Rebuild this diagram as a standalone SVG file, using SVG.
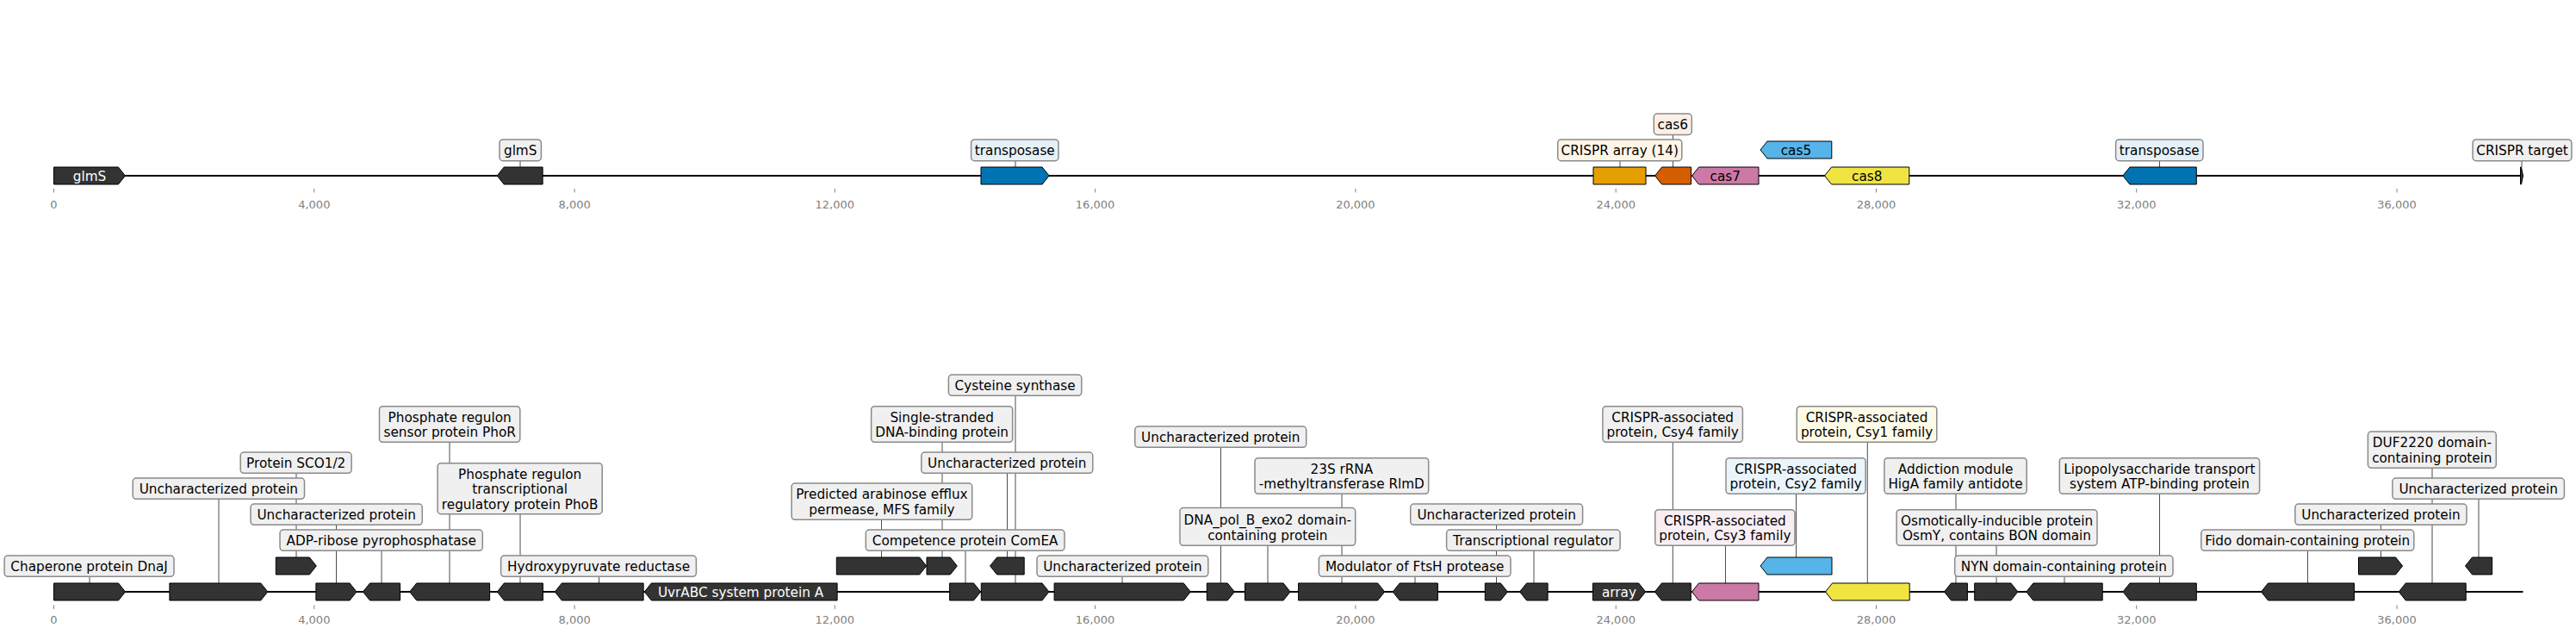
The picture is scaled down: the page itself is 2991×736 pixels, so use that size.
<svg xmlns="http://www.w3.org/2000/svg" width="2991" height="736" viewBox="0 0 2991 736">
<style>
text{font-family:"DejaVu Sans","Liberation Sans",sans-serif}
.track{stroke:#000;stroke-width:2;fill:none}
.gene{stroke:#000;stroke-width:1;fill:#333333}
.tp{fill:#0173b2}.ca{fill:#e69f00}.c6{fill:#d55e00}.c7{fill:#cc79a7}.c5{fill:#56b4e9}.c8{fill:#f0e442}
.box{fill:#f0f0f0;stroke:#8a8a8a;stroke-width:1.5}
.btp{fill:#e6f1f7}.bca{fill:#fdf5e6}.bc6{fill:#fbefe6}.bc1{fill:#fdfbe8}.bc2{fill:#eaf5fb}.bc3{fill:#f9eef4}
.lt{font-size:15.28px;fill:#000;text-anchor:middle}
.wt{font-size:15.28px;fill:#fff;text-anchor:middle}
.bt{font-size:15.28px;fill:#000;text-anchor:middle}
.conn line{stroke:#4d4d4d;stroke-width:1}
.ticks line{stroke:#808080;stroke-width:1}
.ticks text{font-size:13px;fill:#808080;text-anchor:middle}
</style>
<rect width="2991" height="736" fill="#fff"/>
<g id="axes">
<line class="track" x1="62.5" y1="204" x2="2928" y2="204"/>
<line class="track" x1="62.5" y1="687" x2="2929.5" y2="687"/>
<g class="ticks">
<line x1="62.5" y1="219" x2="62.5" y2="223.5"/><line x1="364.8" y1="219" x2="364.8" y2="223.5"/><line x1="667.1" y1="219" x2="667.1" y2="223.5"/><line x1="969.3" y1="219" x2="969.3" y2="223.5"/><line x1="1271.6" y1="219" x2="1271.6" y2="223.5"/><line x1="1573.9" y1="219" x2="1573.9" y2="223.5"/><line x1="1876.2" y1="219" x2="1876.2" y2="223.5"/><line x1="2178.5" y1="219" x2="2178.5" y2="223.5"/><line x1="2480.7" y1="219" x2="2480.7" y2="223.5"/><line x1="2783" y1="219" x2="2783" y2="223.5"/>
<text x="62.5" y="241.5">0</text><text x="364.8" y="241.5">4,000</text><text x="667.1" y="241.5">8,000</text><text x="969.3" y="241.5">12,000</text><text x="1271.6" y="241.5">16,000</text><text x="1573.9" y="241.5">20,000</text><text x="1876.2" y="241.5">24,000</text><text x="2178.5" y="241.5">28,000</text><text x="2480.7" y="241.5">32,000</text><text x="2783" y="241.5">36,000</text>
<line x1="62.5" y1="702.5" x2="62.5" y2="707"/><line x1="364.8" y1="702.5" x2="364.8" y2="707"/><line x1="667.1" y1="702.5" x2="667.1" y2="707"/><line x1="969.3" y1="702.5" x2="969.3" y2="707"/><line x1="1271.6" y1="702.5" x2="1271.6" y2="707"/><line x1="1573.9" y1="702.5" x2="1573.9" y2="707"/><line x1="1876.2" y1="702.5" x2="1876.2" y2="707"/><line x1="2178.5" y1="702.5" x2="2178.5" y2="707"/><line x1="2480.7" y1="702.5" x2="2480.7" y2="707"/><line x1="2783" y1="702.5" x2="2783" y2="707"/>
<text x="62.5" y="724">0</text><text x="364.8" y="724">4,000</text><text x="667.1" y="724">8,000</text><text x="969.3" y="724">12,000</text><text x="1271.6" y="724">16,000</text><text x="1573.9" y="724">20,000</text><text x="1876.2" y="724">24,000</text><text x="2178.5" y="724">28,000</text><text x="2480.7" y="724">32,000</text><text x="2783" y="724">36,000</text>
</g>
</g>
<g id="connectors" class="conn">
<line x1="604" y1="186.7" x2="604" y2="194"/>
<line x1="1179" y1="186.7" x2="1179" y2="194"/>
<line x1="1881" y1="186.7" x2="1881" y2="194"/>
<line x1="1942.5" y1="156.5" x2="1942.5" y2="194"/>
<line x1="2507.5" y1="186.7" x2="2507.5" y2="194"/>
<line x1="2928" y1="186.7" x2="2928" y2="194"/>
<line x1="104" y1="669.3" x2="104" y2="677"/>
<line x1="254" y1="579.3" x2="254" y2="677"/>
<line x1="344" y1="549.3" x2="344" y2="647"/>
<line x1="390.5" y1="609.3" x2="390.5" y2="677"/>
<line x1="443" y1="639.3" x2="443" y2="677"/>
<line x1="522" y1="513.3" x2="522" y2="677"/>
<line x1="604" y1="596.7" x2="604" y2="677"/>
<line x1="695.5" y1="669.3" x2="695.5" y2="677"/>
<line x1="1023.5" y1="603.3" x2="1023.5" y2="647"/>
<line x1="1094" y1="513.3" x2="1094" y2="647"/>
<line x1="1121" y1="639.3" x2="1121" y2="677"/>
<line x1="1179" y1="459.3" x2="1179" y2="677"/>
<line x1="1169.5" y1="549.3" x2="1169.5" y2="647"/>
<line x1="1303" y1="669.3" x2="1303" y2="677"/>
<line x1="1417.5" y1="519.3" x2="1417.5" y2="677"/>
<line x1="1472" y1="633.3" x2="1472" y2="677"/>
<line x1="1558" y1="573.3" x2="1558" y2="677"/>
<line x1="1643" y1="669.3" x2="1643" y2="677"/>
<line x1="1737.5" y1="609.3" x2="1737.5" y2="677"/>
<line x1="1781" y1="639.3" x2="1781" y2="677"/>
<line x1="1942.3" y1="513.3" x2="1942.3" y2="677"/>
<line x1="2003.5" y1="633.3" x2="2003.5" y2="677"/>
<line x1="2085.5" y1="573.3" x2="2085.5" y2="647"/>
<line x1="2168.3" y1="513.3" x2="2168.3" y2="677"/>
<line x1="2271" y1="573.3" x2="2271" y2="677"/>
<line x1="2318" y1="633.3" x2="2318" y2="677"/>
<line x1="2397" y1="669.3" x2="2397" y2="677"/>
<line x1="2507.5" y1="573.3" x2="2507.5" y2="677"/>
<line x1="2679.5" y1="639.3" x2="2679.5" y2="677"/>
<line x1="2764.5" y1="609.3" x2="2764.5" y2="647"/>
<line x1="2824" y1="543.3" x2="2824" y2="677"/>
<line x1="2878" y1="579.3" x2="2878" y2="647"/>
</g>
<g id="t-glmS-1"><polygon class="gene" points="62.5,194 137.4,194 145.4,204 137.4,214 62.5,214"/><text class="wt" x="104" y="209.5">glmS</text></g>
<g id="t-glmS-2"><polygon class="gene" points="577.2,204 585.2,194 630.1,194 630.1,214 585.2,214"/><rect class="box" x="580" y="161.9" width="48.4" height="24.8" rx="4"/><text class="lt" x="604.2" y="180.2">glmS</text></g>
<g id="t-transposase-1"><polygon class="gene tp" points="1139,194 1210.1,194 1218.1,204 1210.1,214 1139,214"/><rect class="box btp" x="1127.6" y="161.9" width="101.4" height="24.8" rx="4"/><text class="lt" x="1178.3" y="180.2">transposase</text></g>
<g id="t-crispr-array"><polygon class="gene ca" points="1850,194 1911,194 1911,214 1850,214"/><rect class="box bca" x="1808.7" y="161.9" width="144.1" height="24.8" rx="4"/><text class="lt" x="1880.75" y="180.2">CRISPR array (14)</text></g>
<g id="t-cas6"><polygon class="gene c6" points="1921.6,204 1929.6,194 1963.5,194 1963.5,214 1929.6,214"/><rect class="box bc6" x="1920.3" y="132" width="44" height="24.5" rx="4"/><text class="lt" x="1942.3" y="150.2">cas6</text></g>
<g id="t-cas7"><polygon class="gene c7" points="1964.5,204 1972.5,194 2042,194 2042,214 1972.5,214"/><text class="bt" x="2003.3" y="209.5">cas7</text></g>
<g id="t-cas5"><polygon class="gene c5" points="2044,174 2052,164 2126.8,164 2126.8,184 2052,184"/><text class="bt" x="2085.4" y="179.5">cas5</text></g>
<g id="t-cas8"><polygon class="gene c8" points="2118.6,204 2126.6,194 2216.8,194 2216.8,214 2126.6,214"/><text class="bt" x="2167.7" y="209.5">cas8</text></g>
<g id="t-transposase-2"><polygon class="gene tp" points="2464.9,204 2472.9,194 2550.3,194 2550.3,214 2472.9,214"/><rect class="box btp" x="2456.6" y="161.9" width="101.4" height="24.8" rx="4"/><text class="lt" x="2507.3" y="180.2">transposase</text></g>
<g id="t-crispr-target"><polygon class="gene" points="2926.5,194 2927.5,194 2929.5,204 2927.5,214 2926.5,214"/><rect class="box" x="2871.1" y="161.9" width="114.8" height="24.8" rx="4"/><text class="lt" x="2928.5" y="180.2">CRISPR target</text></g>

<g id="b1"><polygon class="gene" points="62.5,677 137.5,677 145.5,687 137.5,697 62.5,697"/><rect class="box" x="5.1" y="645" width="196.9" height="24.3" rx="4"/><text class="lt" x="103.55" y="663.2">Chaperone protein DnaJ</text></g>
<g id="b2"><polygon class="gene" points="196.9,677 302.8,677 310.8,687 302.8,697 196.9,697"/><rect class="box" x="154.2" y="555" width="199.3" height="24.3" rx="4"/><text class="lt" x="253.85" y="573.2">Uncharacterized protein</text></g>
<g id="b3"><polygon class="gene" points="320.3,647 359.3,647 367.3,657 359.3,667 320.3,667"/><rect class="box" x="279.2" y="525" width="128.9" height="24.3" rx="4"/><text class="lt" x="343.65" y="543.2">Protein SCO1/2</text></g>
<g id="b4"><polygon class="gene" points="366.9,677 406,677 414,687 406,697 366.9,697"/><rect class="box" x="291" y="585" width="199.3" height="24.3" rx="4"/><text class="lt" x="390.65" y="603.2">Uncharacterized protein</text></g>
<g id="b5"><polygon class="gene" points="421.5,687 429.5,677 464.6,677 464.6,697 429.5,697"/><rect class="box" x="325" y="615" width="235.3" height="24.3" rx="4"/><text class="lt" x="442.65" y="633.2">ADP-ribose pyrophosphatase</text></g>
<g id="b6"><polygon class="gene" points="475.7,687 483.7,677 568.6,677 568.6,697 483.7,697"/><rect class="box" x="440.5" y="471.7" width="163.3" height="41.6" rx="4"/><text class="lt" x="522.15" y="489.7">Phosphate regulon</text><text class="lt" x="522.15" y="507.2">sensor protein PhoR</text></g>
<g id="b7"><polygon class="gene" points="577.3,687 585.3,677 630.4,677 630.4,697 585.3,697"/><rect class="box" x="508.1" y="537.7" width="191.1" height="59" rx="4"/><text class="lt" x="603.65" y="555.7">Phosphate regulon</text><text class="lt" x="603.65" y="573.2">transcriptional</text><text class="lt" x="603.65" y="590.7">regulatory protein PhoB</text></g>
<g id="b8"><polygon class="gene" points="644.3,687 652.3,677 747.1,677 747.1,697 652.3,697"/><rect class="box" x="581.6" y="645" width="226.8" height="24.3" rx="4"/><text class="lt" x="695" y="663.2">Hydroxypyruvate reductase</text></g>
<g id="b9"><polygon class="gene" points="748.3,687 756.3,677 972.1,677 972.1,697 756.3,697"/><text class="wt" x="860" y="692.5">UvrABC system protein A</text></g>
<g id="b10"><polygon class="gene" points="971.3,647 1067.7,647 1075.7,657 1067.7,667 971.3,667"/><rect class="box" x="919.1" y="561" width="209.6" height="42.3" rx="4"/><text class="lt" x="1023.9" y="579.4">Predicted arabinose efflux</text><text class="lt" x="1023.9" y="596.9">permease, MFS family</text></g>
<g id="b11"><polygon class="gene" points="1076,647 1103.3,647 1111.3,657 1103.3,667 1076,667"/><rect class="box" x="1011.6" y="471.7" width="164.1" height="41.6" rx="4"/><text class="lt" x="1093.65" y="489.7">Single-stranded</text><text class="lt" x="1093.65" y="507.2">DNA-binding protein</text></g>
<g id="b12"><polygon class="gene" points="1102.6,677 1130.6,677 1138.6,687 1130.6,697 1102.6,697"/><rect class="box" x="1005.3" y="615" width="230.7" height="24.3" rx="4"/><text class="lt" x="1120.65" y="633.2">Competence protein ComEA</text></g>
<g id="b13"><polygon class="gene" points="1139.3,677 1210,677 1218,687 1210,697 1139.3,697"/><rect class="box" x="1101.4" y="435" width="154.4" height="24.3" rx="4"/><text class="lt" x="1178.6" y="453.2">Cysteine synthase</text></g>
<g id="b14"><polygon class="gene" points="1149.6,657 1157.6,647 1189.2,647 1189.2,667 1157.6,667"/><rect class="box" x="1069.8" y="525" width="199" height="24.3" rx="4"/><text class="lt" x="1169.3" y="543.2">Uncharacterized protein</text></g>
<g id="b15"><polygon class="gene" points="1224.1,677 1374.3,677 1382.3,687 1374.3,697 1224.1,697"/><rect class="box" x="1204" y="645" width="198.8" height="24.3" rx="4"/><text class="lt" x="1303.4" y="663.2">Uncharacterized protein</text></g>
<g id="b16"><polygon class="gene" points="1401.3,677 1425.3,677 1433.3,687 1425.3,697 1401.3,697"/><rect class="box" x="1317.8" y="495" width="198.9" height="24.3" rx="4"/><text class="lt" x="1417.25" y="513.2">Uncharacterized protein</text></g>
<g id="b17"><polygon class="gene" points="1445.5,677 1490.1,677 1498.1,687 1490.1,697 1445.5,697"/><rect class="box" x="1370" y="589.5" width="203.7" height="43.8" rx="4"/><text class="lt" x="1471.85" y="609">DNA_pol_B_exo2 domain-</text><text class="lt" x="1471.85" y="626.5">containing protein</text></g>
<g id="b18"><polygon class="gene" points="1507.6,677 1599.7,677 1607.7,687 1599.7,697 1507.6,697"/><rect class="box" x="1457" y="531.7" width="201.7" height="41.6" rx="4"/><text class="lt" x="1557.85" y="549.7">23S rRNA</text><text class="lt" x="1557.85" y="567.2">-methyltransferase RlmD</text></g>
<g id="b19"><polygon class="gene" points="1617.2,687 1625.2,677 1669.4,677 1669.4,697 1625.2,697"/><rect class="box" x="1531.4" y="645" width="222.6" height="24.3" rx="4"/><text class="lt" x="1642.7" y="663.2">Modulator of FtsH protease</text></g>
<g id="b20"><polygon class="gene" points="1724.3,677 1742.4,677 1750.4,687 1742.4,697 1724.3,697"/><rect class="box" x="1637.7" y="585" width="199.9" height="24.3" rx="4"/><text class="lt" x="1737.65" y="603.2">Uncharacterized protein</text></g>
<g id="b21"><polygon class="gene" points="1764.6,687 1772.6,677 1797.1,677 1797.1,697 1772.6,697"/><rect class="box" x="1679.6" y="615" width="201.5" height="24.3" rx="4"/><text class="lt" x="1780.35" y="633.2">Transcriptional regulator</text></g>
<g id="b22"><polygon class="gene" points="1849.4,677 1902.7,677 1910.7,687 1902.7,697 1849.4,697"/><text class="wt" x="1880" y="692.5">array</text></g>
<g id="b23"><polygon class="gene" points="1921.4,687 1929.4,677 1963.3,677 1963.3,697 1929.4,697"/><rect class="box" x="1860.9" y="471.7" width="162.5" height="41.6" rx="4"/><text class="lt" x="1942.15" y="489.7">CRISPR-associated</text><text class="lt" x="1942.15" y="507.2">protein, Csy4 family</text></g>
<g id="b24"><polygon class="gene c7" points="1964.5,687 1972.5,677 2042,677 2042,697 1972.5,697"/><rect class="box bc3" x="1921.8" y="591.7" width="162.1" height="41.6" rx="4"/><text class="lt" x="2002.85" y="609.7">CRISPR-associated</text><text class="lt" x="2002.85" y="627.2">protein, Csy3 family</text></g>
<g id="b25"><polygon class="gene c5" points="2044,657 2052,647 2127,647 2127,667 2052,667"/><rect class="box bc2" x="2004" y="531.7" width="162.2" height="41.6" rx="4"/><text class="lt" x="2085.1" y="549.7">CRISPR-associated</text><text class="lt" x="2085.1" y="567.2">protein, Csy2 family</text></g>
<g id="b26"><polygon class="gene c8" points="2119.5,687 2127.5,677 2217.2,677 2217.2,697 2127.5,697"/><rect class="box bc1" x="2086.3" y="471.7" width="162.5" height="41.6" rx="4"/><text class="lt" x="2167.55" y="489.7">CRISPR-associated</text><text class="lt" x="2167.55" y="507.2">protein, Csy1 family</text></g>
<g id="b27"><polygon class="gene" points="2257.5,687 2265.5,677 2284.4,677 2284.4,697 2265.5,697"/><rect class="box" x="2187.9" y="531.7" width="165.3" height="41.6" rx="4"/><text class="lt" x="2270.55" y="549.7">Addiction module</text><text class="lt" x="2270.55" y="567.2">HigA family antidote</text></g>
<g id="b28"><polygon class="gene" points="2292.7,677 2334.9,677 2342.9,687 2334.9,697 2292.7,697"/><rect class="box" x="2202.1" y="591.7" width="232.9" height="41.6" rx="4"/><text class="lt" x="2318.55" y="609.7">Osmotically-inducible protein</text><text class="lt" x="2318.55" y="627.2">OsmY, contains BON domain</text></g>
<g id="b29"><polygon class="gene" points="2352.8,687 2360.8,677 2441.2,677 2441.2,697 2360.8,697"/><rect class="box" x="2269.7" y="645" width="253.3" height="24.3" rx="4"/><text class="lt" x="2396.35" y="663.2">NYN domain-containing protein</text></g>
<g id="b30"><polygon class="gene" points="2465,687 2473,677 2550.3,677 2550.3,697 2473,697"/><rect class="box" x="2391.3" y="531.7" width="232.3" height="41.6" rx="4"/><text class="lt" x="2507.45" y="549.7">Lipopolysaccharide transport</text><text class="lt" x="2507.45" y="567.2">system ATP-binding protein</text></g>
<g id="b31"><polygon class="gene" points="2625.5,687 2633.5,677 2733.5,677 2733.5,697 2633.5,697"/><rect class="box" x="2555.8" y="615" width="247" height="24.3" rx="4"/><text class="lt" x="2679.3" y="633.2">Fido domain-containing protein</text></g>
<g id="b32"><polygon class="gene" points="2738.5,647 2781.6,647 2789.6,657 2781.6,667 2738.5,667"/><rect class="box" x="2664.9" y="585" width="199.1" height="24.3" rx="4"/><text class="lt" x="2764.45" y="603.2">Uncharacterized protein</text></g>
<g id="b33"><polygon class="gene" points="2785.3,687 2793.3,677 2863.2,677 2863.2,697 2793.3,697"/><rect class="box" x="2749.4" y="501" width="148.9" height="42.3" rx="4"/><text class="lt" x="2823.85" y="519.4">DUF2220 domain-</text><text class="lt" x="2823.85" y="536.9">containing protein</text></g>
<g id="b34"><polygon class="gene" points="2862.5,657 2870.5,647 2893.6,647 2893.6,667 2870.5,667"/><rect class="box" x="2777.9" y="555" width="199.5" height="24.3" rx="4"/><text class="lt" x="2877.65" y="573.2">Uncharacterized protein</text></g>
</svg>
